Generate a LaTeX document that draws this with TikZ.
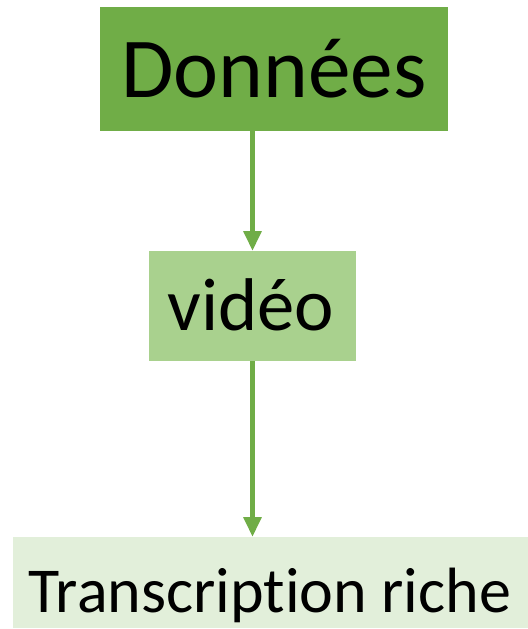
\documentclass[tikz,border=0pt]{standalone}
\usepackage{fontspec}
\setmainfont{Carlito}[Ligatures=NoCommon]
\usetikzlibrary{arrows.meta}
\definecolor{greenDark}{HTML}{70AD47}
\definecolor{greenMid}{HTML}{A9D18E}
\definecolor{greenPale}{HTML}{E2EFDA}
\begin{document}
\begin{tikzpicture}[x=0.75pt,y=-0.75pt,
  box/.style={inner sep=0pt, outer sep=0pt, anchor=north west, text=black},
  label/.style={inner sep=0pt, anchor=base, text=black},
  link/.style={draw=greenDark, line width=3.8pt, -{Triangle[length=15pt,width=13pt]}}]
  \useasboundingbox (0,0) rectangle (528,629);
  \node[box, fill=greenDark, minimum width=348*0.75pt, minimum height=124*0.75pt]
    (data) at (100,7) {};
  \node[label, font=\fontsize{64}{70}\selectfont] (dataText) at (274,97) {Données};
  \node[box, fill=greenMid, minimum width=207*0.75pt, minimum height=110*0.75pt]
    (video) at (149,251) {};
  \node[label, font=\fontsize{56}{64}\selectfont] (videoText) at (251,330) {vidéo};
  \node[box, fill=greenPale, minimum width=515*0.75pt, minimum height=91*0.75pt]
    (trans) at (13,537) {};
  \node[label, font=\fontsize{48}{58}\selectfont] (transText) at (270,612) {Transcription riche};
  \draw[link] (data.south -| video.north) -- (video.north);
  \draw[link] (video.south) -- (video.south |- trans.north);
\end{tikzpicture}
\end{document}
